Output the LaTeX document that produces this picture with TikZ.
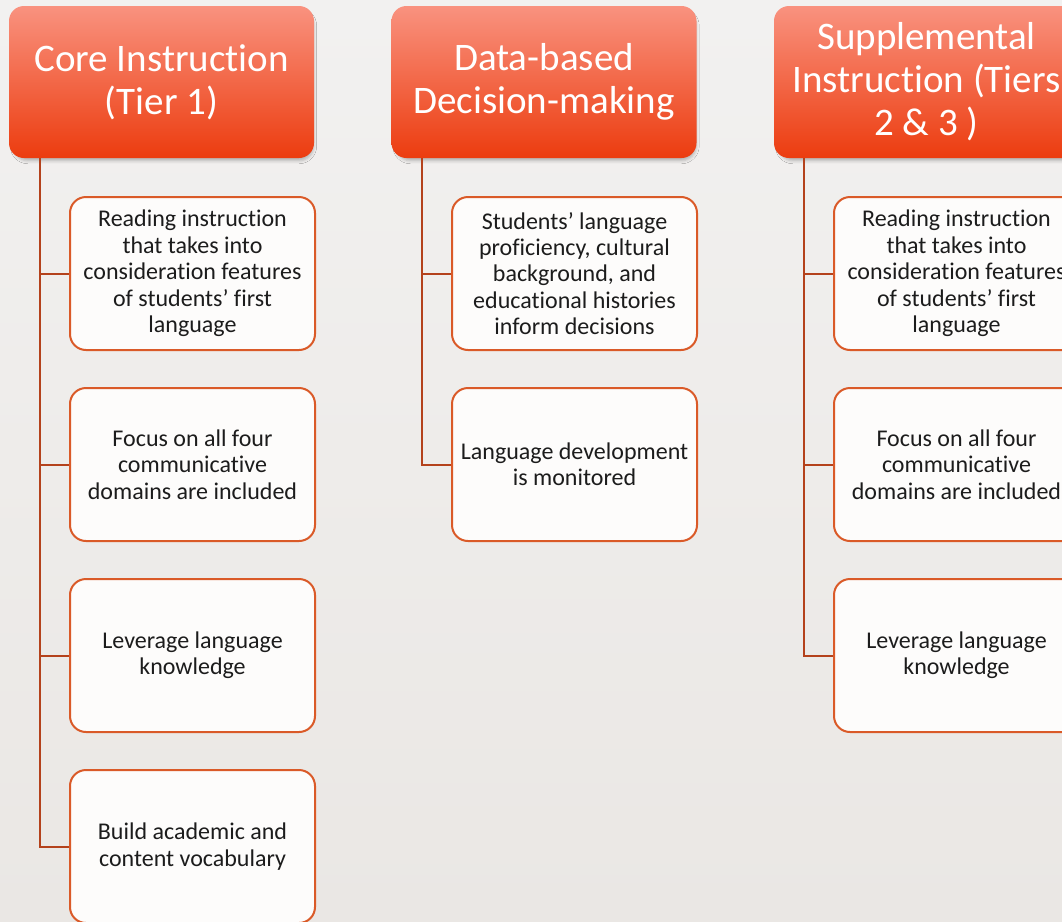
\documentclass[tikz,border=0pt]{standalone}
\usepackage{fontspec}
\setmainfont{Carlito}[RawFeature={-liga;-clig;-dlig;-calt;-rlig;-hlig}]
\usetikzlibrary{shadows.blur}

\definecolor{bgtop}{HTML}{F2F1F0}
\definecolor{bgbot}{HTML}{EAE7E4}
\definecolor{headtop}{HTML}{F9927F}
\definecolor{headbot}{HTML}{EC3C0F}
\definecolor{boxline}{HTML}{DA5A28}
\definecolor{connline}{HTML}{B4421C}
\definecolor{boxfill}{HTML}{FDFCFB}
\definecolor{txt}{HTML}{1C1C1C}

\tikzset{
  header/.style={rounded corners=15pt, minimum width=305pt, minimum height=152pt,
    inner sep=2pt, top color=headtop, bottom color=headbot, text=white, align=center,
    font=\fontsize{39}{43}\selectfont,
    blur shadow={shadow xshift=2pt, shadow yshift=-4pt, shadow blur radius=3pt,
      shadow scale=0.985, shadow opacity=25}},
  item/.style={draw=boxline, line width=2pt, fill=boxfill, rounded corners=16pt,
    minimum width=245pt, minimum height=153pt, inner sep=4pt, text=txt, align=center,
    font=\fontsize{24}{26.4}\selectfont},
  conn/.style={draw=connline, line width=2pt}
}

\begin{document}
\begin{tikzpicture}[x=1pt, y=-1pt]
  % page area and background
  \useasboundingbox (0,0) rectangle (1062,921);
  \clip (0,0) rectangle (1062,921);
  \shade[top color=bgtop, bottom color=bgbot] (0,0) rectangle (1062,921);

  % column headers
  \node[header] (h1) at (161.5,82) {Core Instruction\\(Tier 1)};
  \node[header] (h2) at (544,82) {Data-based\\Decision-making};
  \node[header] (h3) at (926.5,82) {Supplemental\\Instruction (Tiers\\2 \& 3 )};

  % trunk starting points under each header
  \coordinate (t1) at (40,158);
  \coordinate (t2) at (422,158);
  \coordinate (t3) at (804,158);

  % column 1
  \node[item] (a1) at (192.5,273.5) {Reading instruction\\that takes into\\consideration features\\of students’ first\\language};
  \node[item] (a2) at (192.5,464.5) {Focus on all four\\communicative\\domains are included};
  \node[item] (a3) at (192.5,655.5) {Leverage language\\knowledge};
  \node[item] (a4) at (192.5,846.5) {Build academic and\\content vocabulary};

  % column 2
  \node[item] (b1) at (574.5,273.5) {Students’ language\\proficiency, cultural\\background, and\\educational histories\\inform decisions};
  \node[item] (b2) at (574.5,464.5) {Language development\\is monitored};

  % column 3
  \node[item] (c1) at (956.5,273.5) {Reading instruction\\that takes into\\consideration features\\of students’ first\\language};
  \node[item] (c2) at (956.5,464.5) {Focus on all four\\communicative\\domains are included};
  \node[item] (c3) at (956.5,655.5) {Leverage language\\knowledge};

  % connectors
  \foreach \n in {a1,a2,a3,a4} \draw[conn] (t1) |- (\n.west);
  \foreach \n in {b1,b2} \draw[conn] (t2) |- (\n.west);
  \foreach \n in {c1,c2,c3} \draw[conn] (t3) |- (\n.west);
\end{tikzpicture}
\end{document}
